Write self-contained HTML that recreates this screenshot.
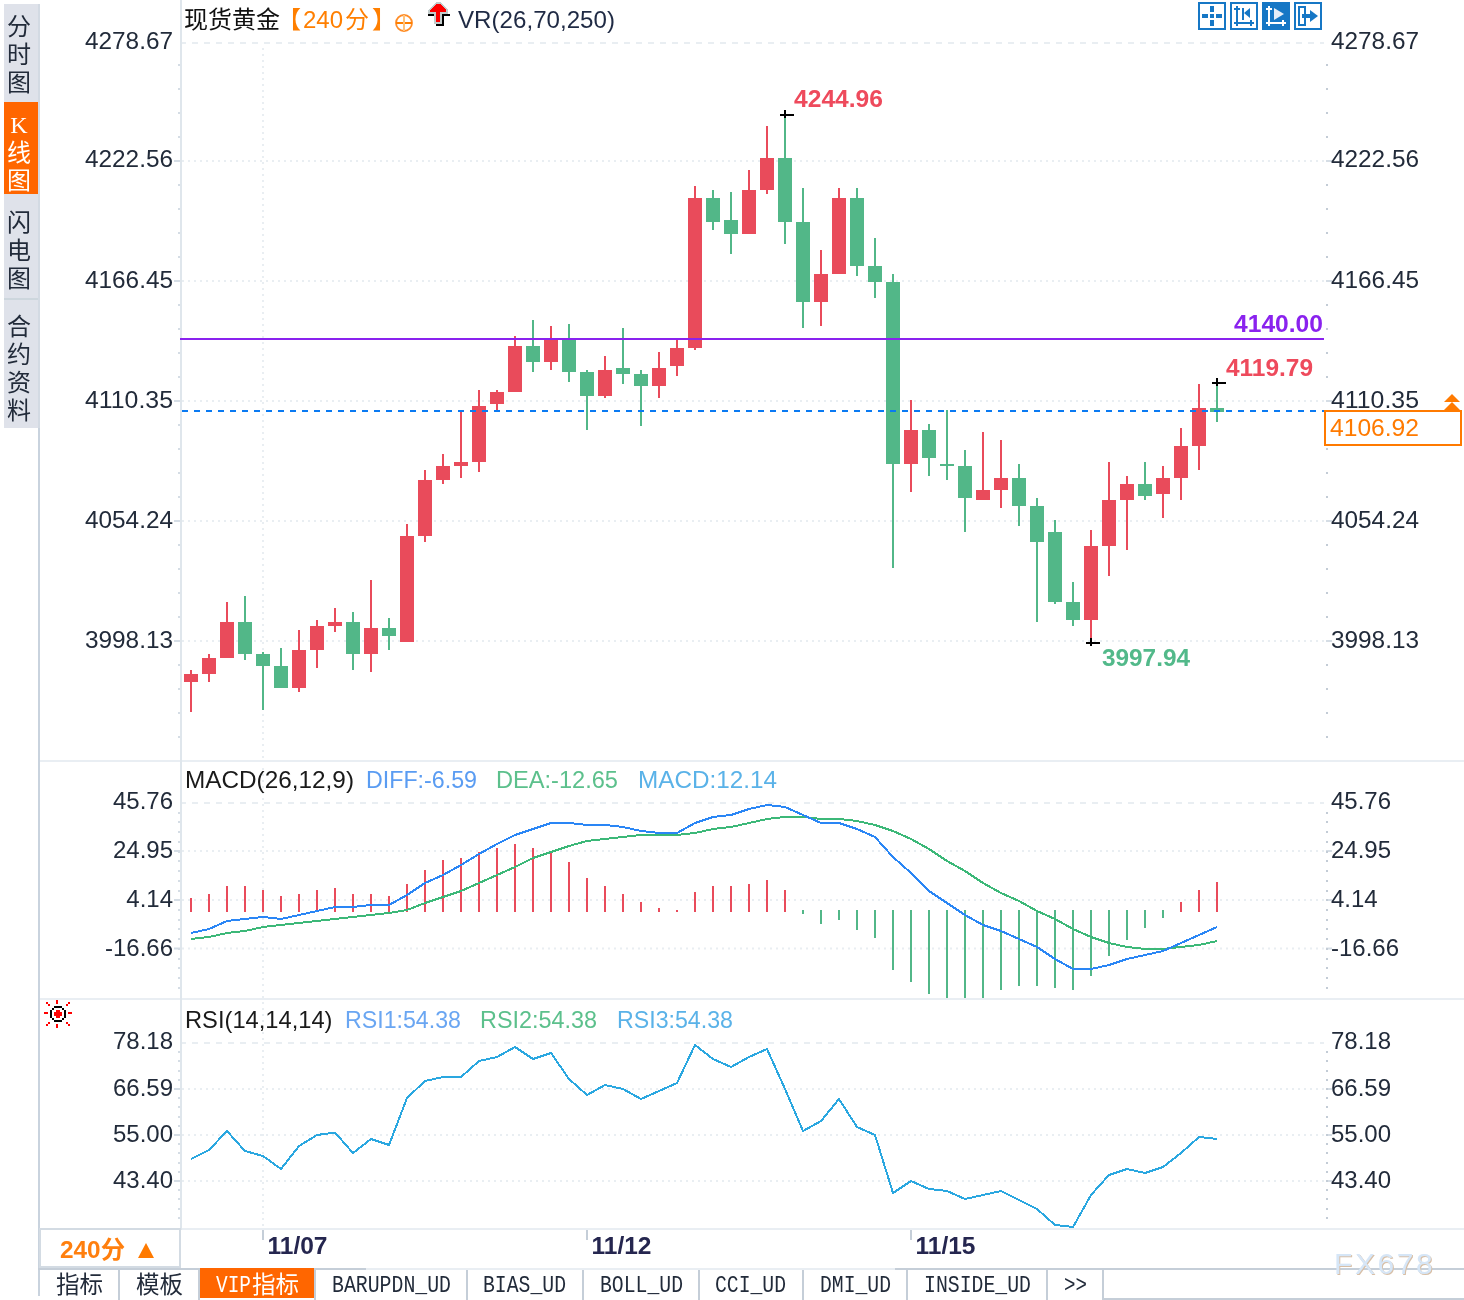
<!DOCTYPE html>
<html lang="zh-CN"><head><meta charset="utf-8"><title>现货黄金 K线图</title>
<style>
html,body{margin:0;padding:0;background:#fff;}
body{width:1464px;height:1300px;overflow:hidden;font-family:"Liberation Sans", "Noto Sans CJK SC", sans-serif;}
svg{display:block;font-family:"Liberation Sans", "Noto Sans CJK SC", sans-serif;}
</style></head><body>
<svg width="1464" height="1300" viewBox="0 0 1464 1300">
<rect width="1464" height="1300" fill="#fff"/>
<rect x="4" y="4" width="36" height="424" fill="#dfe2ea"/>
<rect x="38" y="4" width="2" height="424" fill="#d3dae3"/>
<rect x="4" y="102" width="34" height="92" fill="#ff6600"/>
<rect x="4" y="298" width="34" height="2" fill="#cdd6dd"/>
<rect x="38" y="428" width="2" height="868" fill="#c9d3de"/>
<text x="19" y="35" fill="#222b3a" font-size="24" text-anchor="middle" font-weight="normal" font-family='"Liberation Serif", "Noto Sans CJK SC", sans-serif'>分</text>
<text x="19" y="63" fill="#222b3a" font-size="24" text-anchor="middle" font-weight="normal" font-family='"Liberation Serif", "Noto Sans CJK SC", sans-serif'>时</text>
<text x="19" y="91" fill="#222b3a" font-size="24" text-anchor="middle" font-weight="normal" font-family='"Liberation Serif", "Noto Sans CJK SC", sans-serif'>图</text>
<text x="19" y="133" fill="#ffffff" font-size="24" text-anchor="middle" font-weight="normal" font-family='"Liberation Serif", "Noto Sans CJK SC", sans-serif'>K</text>
<text x="19" y="161" fill="#ffffff" font-size="24" text-anchor="middle" font-weight="normal" font-family='"Liberation Serif", "Noto Sans CJK SC", sans-serif'>线</text>
<text x="19" y="189" fill="#ffffff" font-size="24" text-anchor="middle" font-weight="normal" font-family='"Liberation Serif", "Noto Sans CJK SC", sans-serif'>图</text>
<text x="19" y="231" fill="#222b3a" font-size="24" text-anchor="middle" font-weight="normal" font-family='"Liberation Serif", "Noto Sans CJK SC", sans-serif'>闪</text>
<text x="19" y="259" fill="#222b3a" font-size="24" text-anchor="middle" font-weight="normal" font-family='"Liberation Serif", "Noto Sans CJK SC", sans-serif'>电</text>
<text x="19" y="287" fill="#222b3a" font-size="24" text-anchor="middle" font-weight="normal" font-family='"Liberation Serif", "Noto Sans CJK SC", sans-serif'>图</text>
<text x="19" y="335" fill="#222b3a" font-size="24" text-anchor="middle" font-weight="normal" font-family='"Liberation Serif", "Noto Sans CJK SC", sans-serif'>合</text>
<text x="19" y="363" fill="#222b3a" font-size="24" text-anchor="middle" font-weight="normal" font-family='"Liberation Serif", "Noto Sans CJK SC", sans-serif'>约</text>
<text x="19" y="391" fill="#222b3a" font-size="24" text-anchor="middle" font-weight="normal" font-family='"Liberation Serif", "Noto Sans CJK SC", sans-serif'>资</text>
<text x="19" y="419" fill="#222b3a" font-size="24" text-anchor="middle" font-weight="normal" font-family='"Liberation Serif", "Noto Sans CJK SC", sans-serif'>料</text>
<rect x="40" y="760" width="1424" height="2" fill="#e9eef3"/>
<rect x="40" y="998" width="1424" height="2" fill="#e9eef3"/>
<rect x="40" y="1228" width="1424" height="2" fill="#e9eef3"/>
<rect x="180" y="0" width="2" height="1230" fill="#dfe6ec"/>
<line x1="180" y1="43" x2="1324" y2="43" stroke="#e9eef2" stroke-width="2" stroke-dasharray="6 6"/>
<line x1="182" y1="161" x2="1324" y2="161" stroke="#e9eef2" stroke-width="2" stroke-dasharray="2 4"/>
<rect x="174" y="160" width="6" height="2" fill="#d5dde5"/>
<rect x="1326" y="160" width="6" height="2" fill="#d5dde5"/>
<line x1="182" y1="281" x2="1324" y2="281" stroke="#e9eef2" stroke-width="2" stroke-dasharray="2 4"/>
<rect x="174" y="280" width="6" height="2" fill="#d5dde5"/>
<rect x="1326" y="280" width="6" height="2" fill="#d5dde5"/>
<line x1="182" y1="401" x2="1324" y2="401" stroke="#e9eef2" stroke-width="2" stroke-dasharray="2 4"/>
<rect x="174" y="400" width="6" height="2" fill="#d5dde5"/>
<rect x="1326" y="400" width="6" height="2" fill="#d5dde5"/>
<line x1="182" y1="521" x2="1324" y2="521" stroke="#e9eef2" stroke-width="2" stroke-dasharray="2 4"/>
<rect x="174" y="520" width="6" height="2" fill="#d5dde5"/>
<rect x="1326" y="520" width="6" height="2" fill="#d5dde5"/>
<line x1="182" y1="641" x2="1324" y2="641" stroke="#e9eef2" stroke-width="2" stroke-dasharray="2 4"/>
<rect x="174" y="640" width="6" height="2" fill="#d5dde5"/>
<rect x="1326" y="640" width="6" height="2" fill="#d5dde5"/>
<line x1="263" y1="48" x2="263" y2="760" stroke="#e9eef2" stroke-width="2" stroke-dasharray="2 4"/>
<line x1="263" y1="768" x2="263" y2="998" stroke="#e9eef2" stroke-width="2" stroke-dasharray="2 4"/>
<line x1="263" y1="1002" x2="263" y2="1228" stroke="#e9eef2" stroke-width="2" stroke-dasharray="2 4"/>
<rect x="262" y="1230" width="2" height="10" fill="#c5ced8"/>
<rect x="586" y="1230" width="2" height="10" fill="#c5ced8"/>
<rect x="910" y="1230" width="2" height="10" fill="#c5ced8"/>
<rect x="178" y="64" width="2" height="2" fill="#d5dde5"/>
<rect x="1326" y="64" width="2" height="2" fill="#c3ccd6"/>
<rect x="178" y="88" width="2" height="2" fill="#d5dde5"/>
<rect x="1326" y="88" width="2" height="2" fill="#c3ccd6"/>
<rect x="178" y="112" width="2" height="2" fill="#d5dde5"/>
<rect x="1326" y="112" width="2" height="2" fill="#c3ccd6"/>
<rect x="178" y="136" width="2" height="2" fill="#d5dde5"/>
<rect x="1326" y="136" width="2" height="2" fill="#c3ccd6"/>
<rect x="178" y="184" width="2" height="2" fill="#d5dde5"/>
<rect x="1326" y="184" width="2" height="2" fill="#c3ccd6"/>
<rect x="178" y="208" width="2" height="2" fill="#d5dde5"/>
<rect x="1326" y="208" width="2" height="2" fill="#c3ccd6"/>
<rect x="178" y="232" width="2" height="2" fill="#d5dde5"/>
<rect x="1326" y="232" width="2" height="2" fill="#c3ccd6"/>
<rect x="178" y="256" width="2" height="2" fill="#d5dde5"/>
<rect x="1326" y="256" width="2" height="2" fill="#c3ccd6"/>
<rect x="178" y="304" width="2" height="2" fill="#d5dde5"/>
<rect x="1326" y="304" width="2" height="2" fill="#c3ccd6"/>
<rect x="178" y="328" width="2" height="2" fill="#d5dde5"/>
<rect x="1326" y="328" width="2" height="2" fill="#c3ccd6"/>
<rect x="178" y="352" width="2" height="2" fill="#d5dde5"/>
<rect x="1326" y="352" width="2" height="2" fill="#c3ccd6"/>
<rect x="178" y="376" width="2" height="2" fill="#d5dde5"/>
<rect x="1326" y="376" width="2" height="2" fill="#c3ccd6"/>
<rect x="178" y="424" width="2" height="2" fill="#d5dde5"/>
<rect x="1326" y="424" width="2" height="2" fill="#c3ccd6"/>
<rect x="178" y="448" width="2" height="2" fill="#d5dde5"/>
<rect x="1326" y="448" width="2" height="2" fill="#c3ccd6"/>
<rect x="178" y="472" width="2" height="2" fill="#d5dde5"/>
<rect x="1326" y="472" width="2" height="2" fill="#c3ccd6"/>
<rect x="178" y="496" width="2" height="2" fill="#d5dde5"/>
<rect x="1326" y="496" width="2" height="2" fill="#c3ccd6"/>
<rect x="178" y="544" width="2" height="2" fill="#d5dde5"/>
<rect x="1326" y="544" width="2" height="2" fill="#c3ccd6"/>
<rect x="178" y="568" width="2" height="2" fill="#d5dde5"/>
<rect x="1326" y="568" width="2" height="2" fill="#c3ccd6"/>
<rect x="178" y="592" width="2" height="2" fill="#d5dde5"/>
<rect x="1326" y="592" width="2" height="2" fill="#c3ccd6"/>
<rect x="178" y="616" width="2" height="2" fill="#d5dde5"/>
<rect x="1326" y="616" width="2" height="2" fill="#c3ccd6"/>
<rect x="178" y="664" width="2" height="2" fill="#d5dde5"/>
<rect x="1326" y="664" width="2" height="2" fill="#c3ccd6"/>
<rect x="178" y="688" width="2" height="2" fill="#d5dde5"/>
<rect x="1326" y="688" width="2" height="2" fill="#c3ccd6"/>
<rect x="178" y="712" width="2" height="2" fill="#d5dde5"/>
<rect x="1326" y="712" width="2" height="2" fill="#c3ccd6"/>
<rect x="178" y="736" width="2" height="2" fill="#d5dde5"/>
<rect x="1326" y="736" width="2" height="2" fill="#c3ccd6"/>
<line x1="180" y1="803" x2="1324" y2="803" stroke="#e9eef2" stroke-width="2" stroke-dasharray="6 6"/>
<line x1="182" y1="851" x2="1324" y2="851" stroke="#e9eef2" stroke-width="2" stroke-dasharray="2 4"/>
<rect x="174" y="850" width="6" height="2" fill="#d5dde5"/>
<rect x="1326" y="850" width="6" height="2" fill="#d5dde5"/>
<line x1="182" y1="900" x2="1324" y2="900" stroke="#e9eef2" stroke-width="2" stroke-dasharray="2 4"/>
<rect x="174" y="899" width="6" height="2" fill="#d5dde5"/>
<rect x="1326" y="899" width="6" height="2" fill="#d5dde5"/>
<line x1="182" y1="948.5" x2="1324" y2="948.5" stroke="#e9eef2" stroke-width="2" stroke-dasharray="2 4"/>
<rect x="174" y="947.5" width="6" height="2" fill="#d5dde5"/>
<rect x="1326" y="947.5" width="6" height="2" fill="#d5dde5"/>
<rect x="178" y="812" width="2" height="2" fill="#d5dde5"/>
<rect x="1326" y="812" width="2" height="2" fill="#c3ccd6"/>
<rect x="178" y="821" width="2" height="2" fill="#d5dde5"/>
<rect x="1326" y="821" width="2" height="2" fill="#c3ccd6"/>
<rect x="178" y="831" width="2" height="2" fill="#d5dde5"/>
<rect x="1326" y="831" width="2" height="2" fill="#c3ccd6"/>
<rect x="178" y="841" width="2" height="2" fill="#d5dde5"/>
<rect x="1326" y="841" width="2" height="2" fill="#c3ccd6"/>
<rect x="178" y="851" width="2" height="2" fill="#d5dde5"/>
<rect x="1326" y="851" width="2" height="2" fill="#c3ccd6"/>
<rect x="178" y="860" width="2" height="2" fill="#d5dde5"/>
<rect x="1326" y="860" width="2" height="2" fill="#c3ccd6"/>
<rect x="178" y="870" width="2" height="2" fill="#d5dde5"/>
<rect x="1326" y="870" width="2" height="2" fill="#c3ccd6"/>
<rect x="178" y="880" width="2" height="2" fill="#d5dde5"/>
<rect x="1326" y="880" width="2" height="2" fill="#c3ccd6"/>
<rect x="178" y="890" width="2" height="2" fill="#d5dde5"/>
<rect x="1326" y="890" width="2" height="2" fill="#c3ccd6"/>
<rect x="178" y="899" width="2" height="2" fill="#d5dde5"/>
<rect x="1326" y="899" width="2" height="2" fill="#c3ccd6"/>
<rect x="178" y="909" width="2" height="2" fill="#d5dde5"/>
<rect x="1326" y="909" width="2" height="2" fill="#c3ccd6"/>
<rect x="178" y="919" width="2" height="2" fill="#d5dde5"/>
<rect x="1326" y="919" width="2" height="2" fill="#c3ccd6"/>
<rect x="178" y="928" width="2" height="2" fill="#d5dde5"/>
<rect x="1326" y="928" width="2" height="2" fill="#c3ccd6"/>
<rect x="178" y="938" width="2" height="2" fill="#d5dde5"/>
<rect x="1326" y="938" width="2" height="2" fill="#c3ccd6"/>
<rect x="178" y="948" width="2" height="2" fill="#d5dde5"/>
<rect x="1326" y="948" width="2" height="2" fill="#c3ccd6"/>
<rect x="178" y="958" width="2" height="2" fill="#d5dde5"/>
<rect x="1326" y="958" width="2" height="2" fill="#c3ccd6"/>
<rect x="178" y="967" width="2" height="2" fill="#d5dde5"/>
<rect x="1326" y="967" width="2" height="2" fill="#c3ccd6"/>
<rect x="178" y="977" width="2" height="2" fill="#d5dde5"/>
<rect x="1326" y="977" width="2" height="2" fill="#c3ccd6"/>
<rect x="178" y="987" width="2" height="2" fill="#d5dde5"/>
<rect x="1326" y="987" width="2" height="2" fill="#c3ccd6"/>
<line x1="180" y1="1043" x2="1324" y2="1043" stroke="#e9eef2" stroke-width="2" stroke-dasharray="6 6"/>
<line x1="182" y1="1089" x2="1324" y2="1089" stroke="#e9eef2" stroke-width="2" stroke-dasharray="2 4"/>
<rect x="174" y="1088" width="6" height="2" fill="#d5dde5"/>
<rect x="1326" y="1088" width="6" height="2" fill="#d5dde5"/>
<line x1="182" y1="1135" x2="1324" y2="1135" stroke="#e9eef2" stroke-width="2" stroke-dasharray="2 4"/>
<rect x="174" y="1134" width="6" height="2" fill="#d5dde5"/>
<rect x="1326" y="1134" width="6" height="2" fill="#d5dde5"/>
<line x1="182" y1="1181" x2="1324" y2="1181" stroke="#e9eef2" stroke-width="2" stroke-dasharray="2 4"/>
<rect x="174" y="1180" width="6" height="2" fill="#d5dde5"/>
<rect x="1326" y="1180" width="6" height="2" fill="#d5dde5"/>
<rect x="178" y="1051" width="2" height="2" fill="#d5dde5"/>
<rect x="1326" y="1051" width="2" height="2" fill="#c3ccd6"/>
<rect x="178" y="1060" width="2" height="2" fill="#d5dde5"/>
<rect x="1326" y="1060" width="2" height="2" fill="#c3ccd6"/>
<rect x="178" y="1070" width="2" height="2" fill="#d5dde5"/>
<rect x="1326" y="1070" width="2" height="2" fill="#c3ccd6"/>
<rect x="178" y="1079" width="2" height="2" fill="#d5dde5"/>
<rect x="1326" y="1079" width="2" height="2" fill="#c3ccd6"/>
<rect x="178" y="1088" width="2" height="2" fill="#d5dde5"/>
<rect x="1326" y="1088" width="2" height="2" fill="#c3ccd6"/>
<rect x="178" y="1097" width="2" height="2" fill="#d5dde5"/>
<rect x="1326" y="1097" width="2" height="2" fill="#c3ccd6"/>
<rect x="178" y="1106" width="2" height="2" fill="#d5dde5"/>
<rect x="1326" y="1106" width="2" height="2" fill="#c3ccd6"/>
<rect x="178" y="1116" width="2" height="2" fill="#d5dde5"/>
<rect x="1326" y="1116" width="2" height="2" fill="#c3ccd6"/>
<rect x="178" y="1125" width="2" height="2" fill="#d5dde5"/>
<rect x="1326" y="1125" width="2" height="2" fill="#c3ccd6"/>
<rect x="178" y="1134" width="2" height="2" fill="#d5dde5"/>
<rect x="1326" y="1134" width="2" height="2" fill="#c3ccd6"/>
<rect x="178" y="1143" width="2" height="2" fill="#d5dde5"/>
<rect x="1326" y="1143" width="2" height="2" fill="#c3ccd6"/>
<rect x="178" y="1152" width="2" height="2" fill="#d5dde5"/>
<rect x="1326" y="1152" width="2" height="2" fill="#c3ccd6"/>
<rect x="178" y="1162" width="2" height="2" fill="#d5dde5"/>
<rect x="1326" y="1162" width="2" height="2" fill="#c3ccd6"/>
<rect x="178" y="1171" width="2" height="2" fill="#d5dde5"/>
<rect x="1326" y="1171" width="2" height="2" fill="#c3ccd6"/>
<rect x="178" y="1180" width="2" height="2" fill="#d5dde5"/>
<rect x="1326" y="1180" width="2" height="2" fill="#c3ccd6"/>
<rect x="178" y="1189" width="2" height="2" fill="#d5dde5"/>
<rect x="1326" y="1189" width="2" height="2" fill="#c3ccd6"/>
<rect x="178" y="1198" width="2" height="2" fill="#d5dde5"/>
<rect x="1326" y="1198" width="2" height="2" fill="#c3ccd6"/>
<rect x="178" y="1208" width="2" height="2" fill="#d5dde5"/>
<rect x="1326" y="1208" width="2" height="2" fill="#c3ccd6"/>
<rect x="178" y="1217" width="2" height="2" fill="#d5dde5"/>
<rect x="1326" y="1217" width="2" height="2" fill="#c3ccd6"/>
<rect x="180" y="0" width="2" height="1230" fill="#dfe6ec"/>
<text x="173" y="49" fill="#222b3a" font-size="24" text-anchor="end" font-weight="normal" textLength="88" lengthAdjust="spacingAndGlyphs">4278.67</text>
<text x="1331" y="49" fill="#222b3a" font-size="24" text-anchor="start" font-weight="normal" textLength="88" lengthAdjust="spacingAndGlyphs">4278.67</text>
<text x="173" y="167" fill="#222b3a" font-size="24" text-anchor="end" font-weight="normal" textLength="88" lengthAdjust="spacingAndGlyphs">4222.56</text>
<text x="1331" y="167" fill="#222b3a" font-size="24" text-anchor="start" font-weight="normal" textLength="88" lengthAdjust="spacingAndGlyphs">4222.56</text>
<text x="173" y="287.5" fill="#222b3a" font-size="24" text-anchor="end" font-weight="normal" textLength="88" lengthAdjust="spacingAndGlyphs">4166.45</text>
<text x="1331" y="287.5" fill="#222b3a" font-size="24" text-anchor="start" font-weight="normal" textLength="88" lengthAdjust="spacingAndGlyphs">4166.45</text>
<text x="173" y="408" fill="#222b3a" font-size="24" text-anchor="end" font-weight="normal" textLength="88" lengthAdjust="spacingAndGlyphs">4110.35</text>
<text x="1331" y="408" fill="#222b3a" font-size="24" text-anchor="start" font-weight="normal" textLength="88" lengthAdjust="spacingAndGlyphs">4110.35</text>
<text x="173" y="528" fill="#222b3a" font-size="24" text-anchor="end" font-weight="normal" textLength="88" lengthAdjust="spacingAndGlyphs">4054.24</text>
<text x="1331" y="528" fill="#222b3a" font-size="24" text-anchor="start" font-weight="normal" textLength="88" lengthAdjust="spacingAndGlyphs">4054.24</text>
<text x="173" y="648" fill="#222b3a" font-size="24" text-anchor="end" font-weight="normal" textLength="88" lengthAdjust="spacingAndGlyphs">3998.13</text>
<text x="1331" y="648" fill="#222b3a" font-size="24" text-anchor="start" font-weight="normal" textLength="88" lengthAdjust="spacingAndGlyphs">3998.13</text>
<text x="173" y="809" fill="#222b3a" font-size="24" text-anchor="end" font-weight="normal">45.76</text>
<text x="1331" y="809" fill="#222b3a" font-size="24" text-anchor="start" font-weight="normal">45.76</text>
<text x="173" y="857.5" fill="#222b3a" font-size="24" text-anchor="end" font-weight="normal">24.95</text>
<text x="1331" y="857.5" fill="#222b3a" font-size="24" text-anchor="start" font-weight="normal">24.95</text>
<text x="173" y="907" fill="#222b3a" font-size="24" text-anchor="end" font-weight="normal">4.14</text>
<text x="1331" y="907" fill="#222b3a" font-size="24" text-anchor="start" font-weight="normal">4.14</text>
<text x="173" y="955.5" fill="#222b3a" font-size="24" text-anchor="end" font-weight="normal">-16.66</text>
<text x="1331" y="955.5" fill="#222b3a" font-size="24" text-anchor="start" font-weight="normal">-16.66</text>
<text x="173" y="1049" fill="#222b3a" font-size="24" text-anchor="end" font-weight="normal">78.18</text>
<text x="1331" y="1049" fill="#222b3a" font-size="24" text-anchor="start" font-weight="normal">78.18</text>
<text x="173" y="1095.5" fill="#222b3a" font-size="24" text-anchor="end" font-weight="normal">66.59</text>
<text x="1331" y="1095.5" fill="#222b3a" font-size="24" text-anchor="start" font-weight="normal">66.59</text>
<text x="173" y="1141.5" fill="#222b3a" font-size="24" text-anchor="end" font-weight="normal">55.00</text>
<text x="1331" y="1141.5" fill="#222b3a" font-size="24" text-anchor="start" font-weight="normal">55.00</text>
<text x="173" y="1188" fill="#222b3a" font-size="24" text-anchor="end" font-weight="normal">43.40</text>
<text x="1331" y="1188" fill="#222b3a" font-size="24" text-anchor="start" font-weight="normal">43.40</text>
<g shape-rendering="crispEdges">
<rect x="190" y="670" width="2" height="42" fill="#e94b5b"/>
<rect x="184" y="674" width="14" height="8" fill="#e94b5b"/>
<rect x="208" y="654" width="2" height="28" fill="#e94b5b"/>
<rect x="202" y="658" width="14" height="16" fill="#e94b5b"/>
<rect x="226" y="602" width="2" height="56" fill="#e94b5b"/>
<rect x="220" y="622" width="14" height="36" fill="#e94b5b"/>
<rect x="244" y="596" width="2" height="64" fill="#52b788"/>
<rect x="238" y="622" width="14" height="32" fill="#52b788"/>
<rect x="262" y="652" width="2" height="58" fill="#52b788"/>
<rect x="256" y="654" width="14" height="12" fill="#52b788"/>
<rect x="280" y="648" width="2" height="40" fill="#52b788"/>
<rect x="274" y="666" width="14" height="22" fill="#52b788"/>
<rect x="298" y="630" width="2" height="62" fill="#e94b5b"/>
<rect x="292" y="650" width="14" height="38" fill="#e94b5b"/>
<rect x="316" y="620" width="2" height="48" fill="#e94b5b"/>
<rect x="310" y="626" width="14" height="24" fill="#e94b5b"/>
<rect x="334" y="608" width="2" height="24" fill="#e94b5b"/>
<rect x="328" y="622" width="14" height="4" fill="#e94b5b"/>
<rect x="352" y="612" width="2" height="58" fill="#52b788"/>
<rect x="346" y="622" width="14" height="32" fill="#52b788"/>
<rect x="370" y="580" width="2" height="92" fill="#e94b5b"/>
<rect x="364" y="628" width="14" height="26" fill="#e94b5b"/>
<rect x="388" y="618" width="2" height="32" fill="#52b788"/>
<rect x="382" y="628" width="14" height="8" fill="#52b788"/>
<rect x="406" y="524" width="2" height="118" fill="#e94b5b"/>
<rect x="400" y="536" width="14" height="106" fill="#e94b5b"/>
<rect x="424" y="470" width="2" height="72" fill="#e94b5b"/>
<rect x="418" y="480" width="14" height="56" fill="#e94b5b"/>
<rect x="442" y="454" width="2" height="30" fill="#e94b5b"/>
<rect x="436" y="466" width="14" height="14" fill="#e94b5b"/>
<rect x="460" y="412" width="2" height="66" fill="#e94b5b"/>
<rect x="454" y="462" width="14" height="4" fill="#e94b5b"/>
<rect x="478" y="390" width="2" height="82" fill="#e94b5b"/>
<rect x="472" y="406" width="14" height="56" fill="#e94b5b"/>
<rect x="496" y="390" width="2" height="20" fill="#e94b5b"/>
<rect x="490" y="392" width="14" height="12" fill="#e94b5b"/>
<rect x="514" y="336" width="2" height="56" fill="#e94b5b"/>
<rect x="508" y="346" width="14" height="46" fill="#e94b5b"/>
<rect x="532" y="320" width="2" height="52" fill="#52b788"/>
<rect x="526" y="346" width="14" height="16" fill="#52b788"/>
<rect x="550" y="326" width="2" height="44" fill="#e94b5b"/>
<rect x="544" y="340" width="14" height="22" fill="#e94b5b"/>
<rect x="568" y="324" width="2" height="58" fill="#52b788"/>
<rect x="562" y="340" width="14" height="32" fill="#52b788"/>
<rect x="586" y="370" width="2" height="60" fill="#52b788"/>
<rect x="580" y="372" width="14" height="24" fill="#52b788"/>
<rect x="604" y="356" width="2" height="42" fill="#e94b5b"/>
<rect x="598" y="370" width="14" height="26" fill="#e94b5b"/>
<rect x="622" y="328" width="2" height="56" fill="#52b788"/>
<rect x="616" y="368" width="14" height="6" fill="#52b788"/>
<rect x="640" y="370" width="2" height="56" fill="#52b788"/>
<rect x="634" y="374" width="14" height="12" fill="#52b788"/>
<rect x="658" y="352" width="2" height="46" fill="#e94b5b"/>
<rect x="652" y="368" width="14" height="18" fill="#e94b5b"/>
<rect x="676" y="340" width="2" height="36" fill="#e94b5b"/>
<rect x="670" y="348" width="14" height="18" fill="#e94b5b"/>
<rect x="694" y="186" width="2" height="164" fill="#e94b5b"/>
<rect x="688" y="198" width="14" height="150" fill="#e94b5b"/>
<rect x="712" y="190" width="2" height="40" fill="#52b788"/>
<rect x="706" y="198" width="14" height="24" fill="#52b788"/>
<rect x="730" y="192" width="2" height="62" fill="#52b788"/>
<rect x="724" y="220" width="14" height="14" fill="#52b788"/>
<rect x="748" y="170" width="2" height="64" fill="#e94b5b"/>
<rect x="742" y="190" width="14" height="44" fill="#e94b5b"/>
<rect x="766" y="126" width="2" height="68" fill="#e94b5b"/>
<rect x="760" y="158" width="14" height="32" fill="#e94b5b"/>
<rect x="784" y="114" width="2" height="130" fill="#52b788"/>
<rect x="778" y="158" width="14" height="64" fill="#52b788"/>
<rect x="802" y="188" width="2" height="140" fill="#52b788"/>
<rect x="796" y="222" width="14" height="80" fill="#52b788"/>
<rect x="820" y="250" width="2" height="76" fill="#e94b5b"/>
<rect x="814" y="274" width="14" height="28" fill="#e94b5b"/>
<rect x="838" y="188" width="2" height="86" fill="#e94b5b"/>
<rect x="832" y="198" width="14" height="76" fill="#e94b5b"/>
<rect x="856" y="188" width="2" height="88" fill="#52b788"/>
<rect x="850" y="198" width="14" height="68" fill="#52b788"/>
<rect x="874" y="238" width="2" height="60" fill="#52b788"/>
<rect x="868" y="266" width="14" height="16" fill="#52b788"/>
<rect x="892" y="274" width="2" height="294" fill="#52b788"/>
<rect x="886" y="282" width="14" height="182" fill="#52b788"/>
<rect x="910" y="400" width="2" height="92" fill="#e94b5b"/>
<rect x="904" y="430" width="14" height="34" fill="#e94b5b"/>
<rect x="928" y="424" width="2" height="52" fill="#52b788"/>
<rect x="922" y="430" width="14" height="28" fill="#52b788"/>
<rect x="946" y="410" width="2" height="70" fill="#52b788"/>
<rect x="940" y="464" width="14" height="2" fill="#52b788"/>
<rect x="964" y="450" width="2" height="82" fill="#52b788"/>
<rect x="958" y="466" width="14" height="32" fill="#52b788"/>
<rect x="982" y="432" width="2" height="68" fill="#e94b5b"/>
<rect x="976" y="490" width="14" height="10" fill="#e94b5b"/>
<rect x="1000" y="440" width="2" height="68" fill="#e94b5b"/>
<rect x="994" y="478" width="14" height="12" fill="#e94b5b"/>
<rect x="1018" y="464" width="2" height="62" fill="#52b788"/>
<rect x="1012" y="478" width="14" height="28" fill="#52b788"/>
<rect x="1036" y="498" width="2" height="124" fill="#52b788"/>
<rect x="1030" y="506" width="14" height="36" fill="#52b788"/>
<rect x="1054" y="520" width="2" height="84" fill="#52b788"/>
<rect x="1048" y="532" width="14" height="70" fill="#52b788"/>
<rect x="1072" y="582" width="2" height="44" fill="#52b788"/>
<rect x="1066" y="602" width="14" height="18" fill="#52b788"/>
<rect x="1090" y="530" width="2" height="112" fill="#e94b5b"/>
<rect x="1084" y="546" width="14" height="74" fill="#e94b5b"/>
<rect x="1108" y="462" width="2" height="114" fill="#e94b5b"/>
<rect x="1102" y="500" width="14" height="46" fill="#e94b5b"/>
<rect x="1126" y="476" width="2" height="74" fill="#e94b5b"/>
<rect x="1120" y="484" width="14" height="16" fill="#e94b5b"/>
<rect x="1144" y="462" width="2" height="38" fill="#52b788"/>
<rect x="1138" y="484" width="14" height="12" fill="#52b788"/>
<rect x="1162" y="466" width="2" height="52" fill="#e94b5b"/>
<rect x="1156" y="478" width="14" height="16" fill="#e94b5b"/>
<rect x="1180" y="428" width="2" height="72" fill="#e94b5b"/>
<rect x="1174" y="446" width="14" height="32" fill="#e94b5b"/>
<rect x="1198" y="384" width="2" height="86" fill="#e94b5b"/>
<rect x="1192" y="408" width="14" height="38" fill="#e94b5b"/>
<rect x="1216" y="384" width="2" height="38" fill="#52b788"/>
<rect x="1210" y="408" width="14" height="4" fill="#52b788"/>
</g>
<rect x="180" y="338" width="1144" height="2" fill="#8a22ee"/>
<line x1="182" y1="411" x2="1324" y2="411" stroke="#0a7af2" stroke-width="2" stroke-dasharray="6 6"/>
<rect x="780" y="114" width="14" height="2" fill="#000"/>
<rect x="784" y="110" width="2" height="8" fill="#000"/>
<rect x="1086" y="642" width="14" height="2" fill="#000"/>
<rect x="1090" y="638" width="2" height="8" fill="#000"/>
<rect x="1212" y="382" width="14" height="2" fill="#000"/>
<rect x="1216" y="378" width="2" height="8" fill="#000"/>
<text x="794" y="107" fill="#ee4a5c" font-size="24" text-anchor="start" font-weight="bold" textLength="89" lengthAdjust="spacingAndGlyphs">4244.96</text>
<text x="1102" y="666" fill="#52b98a" font-size="24" text-anchor="start" font-weight="bold" textLength="88" lengthAdjust="spacingAndGlyphs">3997.94</text>
<text x="1226" y="376" fill="#ee4a5c" font-size="24" text-anchor="start" font-weight="bold" textLength="87" lengthAdjust="spacingAndGlyphs">4119.79</text>
<text x="1323" y="332" fill="#8a22ee" font-size="24" text-anchor="end" font-weight="bold" textLength="89" lengthAdjust="spacingAndGlyphs">4140.00</text>
<rect x="1325" y="411" width="136" height="34" fill="#fff" stroke="#ff7a00" stroke-width="2"/>
<text x="1330" y="435.5" fill="#ff7a00" font-size="24" text-anchor="start" font-weight="normal" textLength="89" lengthAdjust="spacingAndGlyphs">4106.92</text>
<polygon points="1452,394 1460,402 1444,402" fill="#ff7a00"/><polygon points="1452,402 1460,410 1444,410" fill="#ff7a00"/>
<g shape-rendering="crispEdges">
<rect x="190" y="898" width="2" height="14" fill="#e94b5b"/>
<rect x="208" y="894" width="2" height="18" fill="#e94b5b"/>
<rect x="226" y="886" width="2" height="26" fill="#e94b5b"/>
<rect x="244" y="886" width="2" height="26" fill="#e94b5b"/>
<rect x="262" y="890" width="2" height="22" fill="#e94b5b"/>
<rect x="280" y="896" width="2" height="16" fill="#e94b5b"/>
<rect x="298" y="894" width="2" height="18" fill="#e94b5b"/>
<rect x="316" y="890" width="2" height="22" fill="#e94b5b"/>
<rect x="334" y="888" width="2" height="24" fill="#e94b5b"/>
<rect x="352" y="894" width="2" height="18" fill="#e94b5b"/>
<rect x="370" y="894" width="2" height="18" fill="#e94b5b"/>
<rect x="388" y="896" width="2" height="16" fill="#e94b5b"/>
<rect x="406" y="884" width="2" height="28" fill="#e94b5b"/>
<rect x="424" y="870" width="2" height="42" fill="#e94b5b"/>
<rect x="442" y="860" width="2" height="52" fill="#e94b5b"/>
<rect x="460" y="858" width="2" height="54" fill="#e94b5b"/>
<rect x="478" y="852" width="2" height="60" fill="#e94b5b"/>
<rect x="496" y="848" width="2" height="64" fill="#e94b5b"/>
<rect x="514" y="844" width="2" height="68" fill="#e94b5b"/>
<rect x="532" y="848" width="2" height="64" fill="#e94b5b"/>
<rect x="550" y="852" width="2" height="60" fill="#e94b5b"/>
<rect x="568" y="862" width="2" height="50" fill="#e94b5b"/>
<rect x="586" y="878" width="2" height="34" fill="#e94b5b"/>
<rect x="604" y="886" width="2" height="26" fill="#e94b5b"/>
<rect x="622" y="894" width="2" height="18" fill="#e94b5b"/>
<rect x="640" y="902" width="2" height="10" fill="#e94b5b"/>
<rect x="658" y="908" width="2" height="4" fill="#e94b5b"/>
<rect x="676" y="910" width="2" height="2" fill="#e94b5b"/>
<rect x="694" y="892" width="2" height="20" fill="#e94b5b"/>
<rect x="712" y="886" width="2" height="26" fill="#e94b5b"/>
<rect x="730" y="886" width="2" height="26" fill="#e94b5b"/>
<rect x="748" y="884" width="2" height="28" fill="#e94b5b"/>
<rect x="766" y="880" width="2" height="32" fill="#e94b5b"/>
<rect x="784" y="890" width="2" height="22" fill="#e94b5b"/>
<rect x="802" y="910" width="2" height="4" fill="#52b788"/>
<rect x="820" y="910" width="2" height="14" fill="#52b788"/>
<rect x="838" y="910" width="2" height="10" fill="#52b788"/>
<rect x="856" y="910" width="2" height="20" fill="#52b788"/>
<rect x="874" y="910" width="2" height="28" fill="#52b788"/>
<rect x="892" y="910" width="2" height="60" fill="#52b788"/>
<rect x="910" y="910" width="2" height="72" fill="#52b788"/>
<rect x="928" y="910" width="2" height="84" fill="#52b788"/>
<rect x="946" y="910" width="2" height="88" fill="#52b788"/>
<rect x="964" y="910" width="2" height="88" fill="#52b788"/>
<rect x="982" y="910" width="2" height="88" fill="#52b788"/>
<rect x="1000" y="910" width="2" height="80" fill="#52b788"/>
<rect x="1018" y="910" width="2" height="76" fill="#52b788"/>
<rect x="1036" y="910" width="2" height="76" fill="#52b788"/>
<rect x="1054" y="910" width="2" height="78" fill="#52b788"/>
<rect x="1072" y="910" width="2" height="80" fill="#52b788"/>
<rect x="1090" y="910" width="2" height="66" fill="#52b788"/>
<rect x="1108" y="910" width="2" height="46" fill="#52b788"/>
<rect x="1126" y="910" width="2" height="30" fill="#52b788"/>
<rect x="1144" y="910" width="2" height="18" fill="#52b788"/>
<rect x="1162" y="910" width="2" height="8" fill="#52b788"/>
<rect x="1180" y="902" width="2" height="10" fill="#e94b5b"/>
<rect x="1198" y="890" width="2" height="22" fill="#e94b5b"/>
<rect x="1216" y="882" width="2" height="30" fill="#e94b5b"/>
</g>
<polyline points="191,939 209,937 227,933 245,931 263,927 281,925 299,923 317,921 335,919 353,917 371,915 389,913 407,910 425,903 443,897 461,891 479,883 497,875 515,867 533,858 551,852 569,846 587,841 605,839 623,837 641,835 659,835 677,835 695,833 713,829 731,827 749,823 767,819 785,817 803,817 821,819 839,819 857,821 875,825 893,831 911,839 929,849 947,861 965,871 983,883 1001,893 1019,901 1037,911 1055,919 1073,929 1091,937 1109,943 1127,947 1145,949 1163,949 1181,947 1199,945 1217,941" fill="none" stroke="#3cb878" stroke-width="2" stroke-linejoin="round" shape-rendering="crispEdges"/>
<polyline points="191,933 209,929 227,921 245,919 263,917 281,919 299,915 317,911 335,907 353,907 371,905 389,905 407,895 425,883 443,875 461,865 479,854 497,844 515,835 533,829 551,823 569,823 587,825 605,825 623,827 641,831 659,833 677,833 695,823 713,817 731,815 749,809 767,805 785,807 803,815 821,823 839,823 857,829 875,837 893,857 911,873 929,891 947,903 965,915 983,925 1001,931 1019,939 1037,947 1055,959 1073,969 1091,969 1109,965 1127,959 1145,955 1163,951 1181,943 1199,935 1217,927" fill="none" stroke="#2a86f5" stroke-width="2" stroke-linejoin="round" shape-rendering="crispEdges"/>
<polyline points="191,1159 209,1150 227,1131 245,1151 263,1156 281,1169 299,1146 317,1135 335,1132.5 353,1153 371,1139 389,1145 407,1098 425,1081 443,1077 461,1077 479,1061 497,1057 515,1047 533,1059 551,1053 569,1079 587,1095 605,1085 623,1089 641,1099 659,1091 677,1083 695,1045 713,1059 731,1067 749,1057 767,1049 785,1089 803,1131 821,1121 839,1099 857,1127 875,1135 893,1193 911,1181 929,1189 947,1191 965,1199 983,1195 1001,1191 1019,1200 1037,1209 1055,1225 1073,1227 1091,1195 1109,1175 1127,1169 1145,1173 1163,1167 1181,1153 1199,1137 1217,1139" fill="none" stroke="#2aa7e0" stroke-width="2" stroke-linejoin="round" shape-rendering="crispEdges"/>
<text x="184" y="28" font-size="24" fill="#111">现货黄金<tspan fill="#ff7f00" dx="-3">【</tspan><tspan fill="#ff7f00" dx="2">240</tspan><tspan fill="#ff7f00" dx="2">分</tspan><tspan fill="#ff7f00" dx="3">】</tspan></text>
<circle cx="404" cy="23" r="8" fill="none" stroke="#ff8c26" stroke-width="1.8"/><rect x="396" y="22" width="16" height="2" fill="#ff7f00"/><rect x="403" y="15" width="2" height="16" fill="#ffc27a"/>
<g shape-rendering="crispEdges"><polygon points="436,2 440,2 448,10 448,14 442,14 442,24 434,24 434,14 428,14 428,10" fill="#c3cccc"/><rect x="428" y="14" width="6" height="2" fill="#000"/><rect x="442" y="14" width="8" height="2" fill="#000"/><rect x="442" y="16" width="2" height="8" fill="#000"/><rect x="436" y="24" width="8" height="2" fill="#000"/><polygon points="436,4 440,4 446,10 446,12 440,12 440,22 436,22 436,12 430,12 430,10" fill="#ff0000"/></g>
<text x="458" y="27.5" fill="#1f2a44" font-size="24" text-anchor="start" font-weight="normal" textLength="157" lengthAdjust="spacingAndGlyphs">VR(26,70,250)</text>
<text x="185" y="788" fill="#1a1a1a" font-size="24" text-anchor="start" font-weight="normal" textLength="169" lengthAdjust="spacingAndGlyphs">MACD(26,12,9)</text>
<text x="366" y="788" fill="#5a9cf2" font-size="24" text-anchor="start" font-weight="normal" textLength="111" lengthAdjust="spacingAndGlyphs">DIFF:-6.59</text>
<text x="496" y="788" fill="#5cc08c" font-size="24" text-anchor="start" font-weight="normal" textLength="122" lengthAdjust="spacingAndGlyphs">DEA:-12.65</text>
<text x="638" y="788" fill="#5ab2e8" font-size="24" text-anchor="start" font-weight="normal" textLength="139" lengthAdjust="spacingAndGlyphs">MACD:12.14</text>
<text x="185" y="1028" fill="#1a1a1a" font-size="24" text-anchor="start" font-weight="normal" textLength="147.5" lengthAdjust="spacingAndGlyphs">RSI(14,14,14)</text>
<text x="345" y="1028" fill="#6aa6f2" font-size="24" text-anchor="start" font-weight="normal" textLength="116" lengthAdjust="spacingAndGlyphs">RSI1:54.38</text>
<text x="480" y="1028" fill="#5cc08c" font-size="24" text-anchor="start" font-weight="normal" textLength="117" lengthAdjust="spacingAndGlyphs">RSI2:54.38</text>
<text x="617" y="1028" fill="#5ab2e8" font-size="24" text-anchor="start" font-weight="normal" textLength="116" lengthAdjust="spacingAndGlyphs">RSI3:54.38</text>
<g shape-rendering="crispEdges">
<rect x="1199" y="3" width="26" height="26" fill="#fff" stroke="#1677c5" stroke-width="2"/>
<rect x="1231" y="3" width="26" height="26" fill="#fff" stroke="#1677c5" stroke-width="2"/>
<rect x="1295" y="3" width="26" height="26" fill="#fff" stroke="#1677c5" stroke-width="2"/>
<rect x="1262" y="2" width="28" height="28" fill="#1677c5"/>
<rect x="1210" y="14" width="4" height="4" fill="#1677c5"/>
<rect x="1210" y="6" width="4" height="6" fill="#1677c5"/>
<rect x="1210" y="20" width="4" height="6" fill="#1677c5"/>
<rect x="1202" y="14" width="6" height="4" fill="#1677c5"/>
<rect x="1216" y="14" width="6" height="4" fill="#1677c5"/>
<rect x="1236" y="6" width="2" height="20" fill="#1677c5"/>
<rect x="1234" y="8" width="6" height="2" fill="#1677c5"/>
<rect x="1234" y="22" width="20" height="2" fill="#1677c5"/>
<rect x="1250" y="20" width="2" height="6" fill="#1677c5"/>
<rect x="1242" y="8" width="2" height="12" fill="#1677c5"/>
<polygon points="1244,13 1250,8 1250,18" fill="#1677c5" shape-rendering="auto"/>
<rect x="1268" y="6" width="2" height="20" fill="#fff"/>
<rect x="1266" y="8" width="6" height="2" fill="#fff"/>
<rect x="1266" y="22" width="20" height="2" fill="#fff"/>
<rect x="1282" y="20" width="2" height="6" fill="#fff"/>
<polygon points="1274,8 1284,14 1274,20" fill="#e4eef8" shape-rendering="auto"/>
<rect x="1299" y="7" width="6" height="18" fill="none" stroke="#1677c5" stroke-width="2"/>
<rect x="1302" y="14" width="10" height="4" fill="#1677c5"/>
<polygon points="1310,10 1318,16 1310,22" fill="#1677c5" shape-rendering="auto"/>
</g>
<g shape-rendering="crispEdges">
<rect x="54" y="1006" width="8" height="2" fill="#000"/>
<rect x="54" y="1020" width="8" height="2" fill="#000"/>
<rect x="50" y="1010" width="2" height="8" fill="#000"/>
<rect x="64" y="1010" width="2" height="8" fill="#000"/>
<rect x="52" y="1008" width="2" height="2" fill="#000"/>
<rect x="62" y="1008" width="2" height="2" fill="#000"/>
<rect x="52" y="1018" width="2" height="2" fill="#000"/>
<rect x="62" y="1018" width="2" height="2" fill="#000"/>
<rect x="56" y="1010" width="4" height="8" fill="#ff0000"/>
<rect x="54" y="1012" width="8" height="4" fill="#ff0000"/>
<rect x="44" y="1012" width="4" height="2" fill="#ff0000"/>
<rect x="68" y="1012" width="4" height="2" fill="#ff0000"/>
<rect x="56" y="1000" width="2" height="4" fill="#ff0000"/>
<rect x="56" y="1024" width="2" height="4" fill="#ff0000"/>
<rect x="46" y="1002" width="2" height="2" fill="#ff0000"/>
<rect x="48" y="1004" width="2" height="2" fill="#ff0000"/>
<rect x="68" y="1002" width="2" height="2" fill="#ff0000"/>
<rect x="66" y="1004" width="2" height="2" fill="#ff0000"/>
<rect x="48" y="1022" width="2" height="2" fill="#ff0000"/>
<rect x="46" y="1024" width="2" height="2" fill="#ff0000"/>
<rect x="66" y="1022" width="2" height="2" fill="#ff0000"/>
<rect x="68" y="1024" width="2" height="2" fill="#ff0000"/>
</g>
<rect x="40" y="1229" width="140" height="38" fill="#fff" stroke="#d3dbe3" stroke-width="2"/>
<text x="60" y="1258" font-size="24" font-weight="bold" fill="#ff7f0e" textLength="65" lengthAdjust="spacingAndGlyphs">240分</text>
<polygon points="146,1243 154,1258 138,1258" fill="#ff7a00"/>
<text x="267.5" y="1253.5" fill="#25264f" font-size="24" text-anchor="start" font-weight="bold" textLength="60" lengthAdjust="spacingAndGlyphs">11/07</text>
<text x="591.5" y="1253.5" fill="#25264f" font-size="24" text-anchor="start" font-weight="bold" textLength="60" lengthAdjust="spacingAndGlyphs">11/12</text>
<text x="915.5" y="1253.5" fill="#25264f" font-size="24" text-anchor="start" font-weight="bold" textLength="60" lengthAdjust="spacingAndGlyphs">11/15</text>
<rect x="40" y="1268" width="1424" height="2" fill="#e9eef3"/>
<rect x="38" y="1268" width="162" height="2" fill="#c5ced8"/>
<rect x="314" y="1268" width="52" height="2" fill="#c5ced8"/>
<rect x="895" y="1268" width="569" height="2" fill="#c5ced8"/>
<rect x="1102" y="1298" width="362" height="2" fill="#c5ced8"/>
<rect x="200" y="1268" width="114" height="30" fill="#ff6600"/>
<rect x="118" y="1270" width="2" height="30" fill="#c5ced8"/>
<rect x="198" y="1270" width="2" height="30" fill="#c5ced8"/>
<rect x="314" y="1270" width="2" height="30" fill="#c5ced8"/>
<rect x="466" y="1270" width="2" height="30" fill="#c5ced8"/>
<rect x="582" y="1270" width="2" height="30" fill="#c5ced8"/>
<rect x="698" y="1270" width="2" height="30" fill="#c5ced8"/>
<rect x="802" y="1270" width="2" height="30" fill="#c5ced8"/>
<rect x="906" y="1270" width="2" height="30" fill="#c5ced8"/>
<rect x="1046" y="1270" width="2" height="30" fill="#c5ced8"/>
<rect x="1102" y="1270" width="2" height="30" fill="#c5ced8"/>
<rect x="200" y="1268" width="114" height="30" fill="#ff6600"/>
<text x="56" y="1293" fill="#222b3a" font-size="24" text-anchor="start" font-weight="normal" font-family='"Liberation Serif", "Noto Sans CJK SC", sans-serif' textLength="47" lengthAdjust="spacingAndGlyphs">指标</text>
<text x="136" y="1293" fill="#222b3a" font-size="24" text-anchor="start" font-weight="normal" font-family='"Liberation Serif", "Noto Sans CJK SC", sans-serif' textLength="47" lengthAdjust="spacingAndGlyphs">模板</text>
<text x="216" y="1292" fill="#fff" font-size="24" text-anchor="start" font-weight="normal" font-family='"Liberation Mono", "Noto Sans CJK SC", monospace' textLength="35" lengthAdjust="spacingAndGlyphs">VIP</text>
<text x="252" y="1293" fill="#fff" font-size="24" text-anchor="start" font-weight="normal" font-family='"Liberation Serif", "Noto Sans CJK SC", sans-serif' textLength="47" lengthAdjust="spacingAndGlyphs">指标</text>
<text x="332" y="1292" fill="#222b3a" font-size="24" text-anchor="start" font-weight="normal" font-family='"Liberation Mono", "Noto Sans CJK SC", monospace' textLength="119" lengthAdjust="spacingAndGlyphs">BARUPDN_UD</text>
<text x="483" y="1292" fill="#222b3a" font-size="24" text-anchor="start" font-weight="normal" font-family='"Liberation Mono", "Noto Sans CJK SC", monospace' textLength="83" lengthAdjust="spacingAndGlyphs">BIAS_UD</text>
<text x="600" y="1292" fill="#222b3a" font-size="24" text-anchor="start" font-weight="normal" font-family='"Liberation Mono", "Noto Sans CJK SC", monospace' textLength="83" lengthAdjust="spacingAndGlyphs">BOLL_UD</text>
<text x="715" y="1292" fill="#222b3a" font-size="24" text-anchor="start" font-weight="normal" font-family='"Liberation Mono", "Noto Sans CJK SC", monospace' textLength="71" lengthAdjust="spacingAndGlyphs">CCI_UD</text>
<text x="820" y="1292" fill="#222b3a" font-size="24" text-anchor="start" font-weight="normal" font-family='"Liberation Mono", "Noto Sans CJK SC", monospace' textLength="71" lengthAdjust="spacingAndGlyphs">DMI_UD</text>
<text x="924" y="1292" fill="#222b3a" font-size="24" text-anchor="start" font-weight="normal" font-family='"Liberation Mono", "Noto Sans CJK SC", monospace' textLength="107" lengthAdjust="spacingAndGlyphs">INSIDE_UD</text>
<text x="1064" y="1292" fill="#222b3a" font-size="24" text-anchor="start" font-weight="normal" font-family='"Liberation Mono", "Noto Sans CJK SC", monospace' textLength="23" lengthAdjust="spacingAndGlyphs">>></text>
<text x="1334" y="1273.5" font-size="30" fill="#d8bfa6" letter-spacing="2.6" transform="translate(1,1)">FX678</text>
<text x="1334" y="1273.5" font-size="30" fill="#d6e6f7" letter-spacing="2.6">FX678</text>
</svg>
</body></html>
